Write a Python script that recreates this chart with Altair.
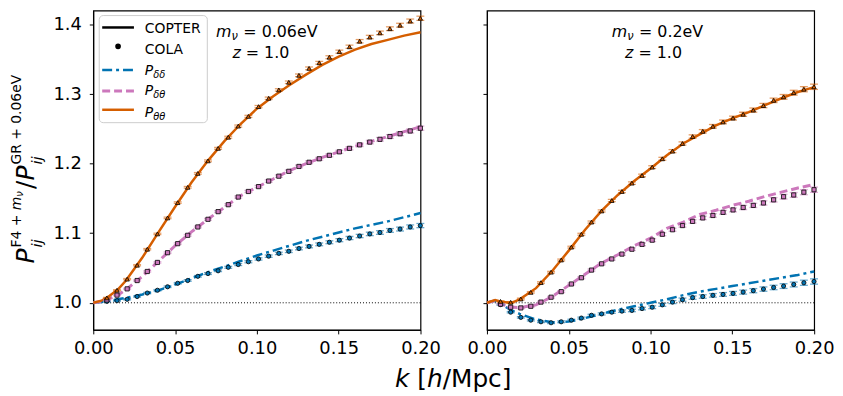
import altair as alt
import pandas as pd

FONT = "DejaVu Sans"
BLUE, PINK, ORANGE = "#0173b2", "#cc78bc", "#d55e00"

# ---------------- data ----------------
k_cola = [0.0083, 0.0145, 0.0207, 0.0268, 0.0330, 0.0392, 0.0454, 0.0516,
          0.0577, 0.0639, 0.0701, 0.0763, 0.0825, 0.0886, 0.0948, 0.1010,
          0.1072, 0.1134, 0.1195, 0.1257, 0.1319, 0.1381, 0.1443, 0.1504,
          0.1566, 0.1628, 0.1690, 0.1752, 0.1813, 0.1875, 0.1937, 0.1999]
k_line = [0.0, 0.005, 0.01, 0.015, 0.02, 0.03, 0.04, 0.05, 0.06, 0.07, 0.08,
          0.09, 0.10, 0.11, 0.12, 0.13, 0.14, 0.15, 0.16, 0.17, 0.18, 0.19, 0.20]

# m_nu = 0.06 eV panel
copter_dd_006 = [1.000, 1.001, 1.003, 1.005, 1.007, 1.012, 1.018, 1.026, 1.035, 1.044, 1.052,
                 1.060, 1.068, 1.075, 1.082, 1.089, 1.095, 1.101, 1.107, 1.112, 1.117, 1.123, 1.129]
copter_dt_006 = [1.000, 1.002, 1.006, 1.011, 1.019, 1.038, 1.060, 1.082, 1.102, 1.120, 1.137,
                 1.154, 1.166, 1.178, 1.190, 1.200, 1.209, 1.217, 1.225, 1.232, 1.239, 1.246, 1.253]
copter_tt_006 = [1.000, 1.003, 1.010, 1.019, 1.032, 1.065, 1.102, 1.138, 1.173, 1.204, 1.232,
                 1.257, 1.279, 1.297, 1.313, 1.328, 1.342, 1.354, 1.364, 1.372, 1.378, 1.384, 1.389]
cola_dd_006 = [1.002, 1.003, 1.005, 1.009, 1.014, 1.018, 1.023, 1.028, 1.032, 1.038, 1.042,
               1.046, 1.051, 1.055, 1.059, 1.063, 1.067, 1.071, 1.074, 1.078, 1.081, 1.084,
               1.087, 1.090, 1.093, 1.096, 1.099, 1.101, 1.104, 1.106, 1.109, 1.111]
cola_dt_006 = [1.004, 1.011, 1.020, 1.032, 1.045, 1.058, 1.072, 1.085, 1.097, 1.109, 1.120,
               1.131, 1.141, 1.152, 1.160, 1.167, 1.175, 1.182, 1.189, 1.196, 1.202, 1.207,
               1.212, 1.217, 1.222, 1.227, 1.231, 1.235, 1.239, 1.243, 1.247, 1.251]
cola_tt_006 = [1.007, 1.018, 1.034, 1.054, 1.077, 1.099, 1.122, 1.144, 1.166, 1.186, 1.204,
               1.222, 1.238, 1.254, 1.268, 1.282, 1.294, 1.306, 1.317, 1.327, 1.337, 1.345,
               1.353, 1.361, 1.368, 1.376, 1.382, 1.388, 1.394, 1.399, 1.405, 1.409]
cola_err_006 = [0.0008, 0.0008, 0.0009, 0.0009, 0.0010, 0.0010, 0.0011, 0.0011, 0.0012, 0.0012,
                0.0013, 0.0013, 0.0014, 0.0015, 0.0015, 0.0016, 0.0017, 0.0017, 0.0018, 0.0019,
                0.0020, 0.0020, 0.0021, 0.0022, 0.0023, 0.0024, 0.0025, 0.0026, 0.0027, 0.0028,
                0.0029, 0.0030]

# m_nu = 0.2 eV panel
copter_dd_02 = [1.000, 1.003, 0.996, 0.989, 0.984, 0.976, 0.972, 0.973, 0.978, 0.984, 0.990,
                0.995, 1.000, 1.005, 1.011, 1.016, 1.020, 1.024, 1.028, 1.032, 1.036, 1.040, 1.045]
copter_dt_02 = [1.000, 1.003, 0.997, 0.994, 0.993, 0.997, 1.009, 1.025, 1.041, 1.057, 1.069,
                1.082, 1.093, 1.107, 1.116, 1.127, 1.133, 1.140, 1.146, 1.153, 1.159, 1.165, 1.170]
copter_tt_02 = [1.000, 1.004, 1.001, 1.000, 1.005, 1.021, 1.046, 1.075, 1.105, 1.132, 1.155,
                1.175, 1.193, 1.212, 1.229, 1.242, 1.255, 1.265, 1.274, 1.284, 1.294, 1.303, 1.310]
cola_dd_02 = [0.9974, 0.9865, 0.979, 0.975, 0.9727, 0.9713, 0.9727, 0.975, 0.978, 0.982, 0.984,
              0.9865, 0.988, 0.989, 0.9917, 0.9936, 0.997, 1.001, 1.0045, 1.0074, 1.009, 1.0107,
              1.012, 1.0135, 1.0154, 1.0174, 1.0197, 1.022, 1.024, 1.0263, 1.0288, 1.0306]
cola_dt_02 = [0.998, 0.9936, 0.9926, 0.995, 1.001, 1.008, 1.016, 1.027, 1.036, 1.047, 1.056,
              1.063, 1.070, 1.077, 1.084, 1.090, 1.0985, 1.105, 1.111, 1.117, 1.122, 1.1255,
              1.130, 1.1335, 1.137, 1.140, 1.1435, 1.148, 1.1525, 1.155, 1.159, 1.1625]
cola_tt_02 = [1.002, 1.0007, 1.0054, 1.015, 1.029, 1.044, 1.0615, 1.080, 1.0985, 1.116, 1.132,
              1.147, 1.160, 1.172, 1.183, 1.195, 1.207, 1.218, 1.229, 1.239, 1.2465, 1.2537,
              1.260, 1.2655, 1.271, 1.277, 1.2835, 1.291, 1.296, 1.302, 1.307, 1.3105]
cola_err_02 = [0.0010, 0.0010, 0.0011, 0.0011, 0.0012, 0.0012, 0.0013, 0.0013, 0.0014, 0.0015,
               0.0015, 0.0016, 0.0017, 0.0018, 0.0019, 0.0020, 0.0021, 0.0022, 0.0023, 0.0024,
               0.0025, 0.0026, 0.0027, 0.0028, 0.0029, 0.0030, 0.0031, 0.0032, 0.0034, 0.0035,
               0.0037, 0.0038]

x_ticks = [0.0, 0.05, 0.10, 0.15, 0.20]
y_ticks = [1.0, 1.1, 1.2, 1.3, 1.4]
X_DOMAIN = [0.0, 0.2]
Y_DOMAIN = [0.961, 1.42]

STYLES = {
    "dd": dict(color=BLUE, shape="circle", dash=[10, 4, 3, 4], width=2.5, size=18),
    "dt": dict(color=PINK, shape="square", dash=[8, 4], width=3, size=18),
    "tt": dict(color=ORANGE, shape="triangle-up", dash=None, width=2.5, size=20),
}

# ---------------- text helpers ----------------
W_EM = {" ": 0.318, ".": 0.318, "+": 0.838, "=": 0.838, "/": 0.337, "[": 0.390,
        "]": 0.390, "A": 0.684, "C": 0.698, "E": 0.632, "F": 0.575, "G": 0.775, "L": 0.557,
        "M": 0.863, "O": 0.787, "P": 0.603, "R": 0.695, "T": 0.611, "V": 0.684, "c": 0.550,
        "e": 0.615, "h": 0.634, "i": 0.278, "j": 0.278, "k": 0.579, "m": 0.974, "p": 0.635,
        "z": 0.525, "ν": 0.592, "δ": 0.612, "θ": 0.612}
for d in "0123456789":
    W_EM[d] = 0.636


def tw(s, size):
    return sum(W_EM.get(c, 0.6) for c in s) * size


ONE = pd.DataFrame({"a": [0]})


def txt(s, x, y, size, italic=False, angle=0):
    return alt.Chart(ONE).mark_text(
        align="left", baseline="alphabetic", font=FONT, fontSize=size,
        fontStyle="italic" if italic else "normal", angle=angle, color="black"
    ).encode(x=alt.value(x), y=alt.value(y), text=alt.value(s))


def hline(pieces, cx, by):
    # leading / trailing spaces of a piece are turned into horizontal advance
    total = sum(tw(t, s) for t, s, _, _ in pieces)
    x = cx - total / 2
    out = []
    for t, s, it, dy in pieces:
        lead = len(t) - len(t.lstrip(" "))
        core = t.strip(" ")
        x += lead * W_EM[" "] * s
        out.append(txt(core, x, by + dy, s, it))
        x += tw(t, s) - lead * W_EM[" "] * s
    return out


def annotation(mass, cx1, cx2):
    out = hline([("m", 16, True, 0), ("ν", 11.5, True, 3), (" = " + mass, 16, False, 0)],
                cx1, 27)
    out += hline([("z", 16, True, 0), (" = 1.0", 16, False, 0)], cx2, 48)
    return out


def ytitle():
    out = []
    MAIN, SUP, SUB = 25, 14, 15
    XM, XS, XB = -60, -72.5, -52
    c = 255
    out.append(txt("P", XM, c, MAIN, True, 270))
    c -= tw("P", MAIN) + 1
    out.append(txt("ij", XB, c, SUB, True, 270))
    out.append(txt("F4 +", XS, c, SUP, False, 270))
    s = c - tw("F4 + ", SUP)
    out.append(txt("m", XS, s, SUP, True, 270))
    s -= tw("m", SUP)
    out.append(txt("ν", XS + 2, s, 10, True, 270))
    s -= tw("ν", 10)
    c = s - 2
    out.append(txt("/", XM, c, MAIN, False, 270))
    c -= tw("/", MAIN)
    out.append(txt("P", XM, c, MAIN, True, 270))
    c -= tw("P", MAIN) + 1
    out.append(txt("ij", XB, c, SUB, True, 270))
    out.append(txt("GR + 0.06eV", XS, c, SUP, False, 270))
    return out


def legend():
    out = [alt.Chart(ONE).mark_rect(fill="white", fillOpacity=0.8, stroke="#cccccc",
                                   strokeWidth=1, cornerRadius=4).encode(
        x=alt.value(6), x2=alt.value(115), y=alt.value(5), y2=alt.value(113))]

    def sample(y, color, dash, width):
        mk = dict(color=color, strokeWidth=width)
        if dash:
            mk["strokeDash"] = dash
        return alt.Chart(ONE).mark_rule(**mk).encode(
            x=alt.value(9), x2=alt.value(41), y=alt.value(y))

    out.append(sample(17, "black", None, 2.5))
    out.append(alt.Chart(ONE).mark_point(filled=True, fill="black", stroke="black", size=14,
                                         opacity=1).encode(x=alt.value(25), y=alt.value(36)))
    out.append(sample(60, BLUE, STYLES["dd"]["dash"], 2.5))
    out.append(sample(81, PINK, STYLES["dt"]["dash"], 3))
    out.append(sample(100, ORANGE, None, 2.5))
    out.append(txt("COPTER", 52, 23, 14))
    out.append(txt("COLA", 52, 44, 14))
    for sub, by in [("δδ", 65), ("δθ", 85), ("θθ", 107)]:
        out.append(txt("P", 52, by, 14, True))
        out.append(txt(sub, 52 + tw("P", 14), by + 3, 10, True))
    return out


def make_panel(copter, cola, err, show_labels, extras):
    xsc = alt.Scale(domain=X_DOMAIN, nice=False, zero=False)
    ysc = alt.Scale(domain=Y_DOMAIN, nice=False, zero=False)
    xax = alt.Axis(values=x_ticks, format=".2f", title=None, grid=False, tickSize=4,
                   labelPadding=6, labelFontSize=18, labelFlush=False)
    yax = alt.Axis(values=y_ticks, format=".1f", title=None, grid=False, tickSize=4,
                   labelPadding=8, labelFontSize=18, labels=show_labels, labelFlush=False)

    def X(f):
        return alt.X(f, type="quantitative", scale=xsc, axis=xax)

    def Y(f):
        return alt.Y(f, type="quantitative", scale=ysc, axis=yax)

    layers = [alt.Chart(pd.DataFrame({"y": [1.0]})).mark_rule(
        color="black", strokeDash=[1, 2], strokeWidth=1).encode(y=Y("y"))]
    for key in ["dd", "dt", "tt"]:
        st = STYLES[key]
        mk = dict(color=st["color"], strokeWidth=st["width"])
        if st["dash"]:
            mk["strokeDash"] = st["dash"]
        df = pd.DataFrame({"k": k_line, "v": copter[key]})
        layers.append(alt.Chart(df).mark_line(**mk).encode(x=X("k"), y=Y("v")))
    for key in ["dd", "dt", "tt"]:
        st = STYLES[key]
        vals = cola[key]
        df = pd.DataFrame({"k": k_cola, "v": vals,
                           "lo": [v - e for v, e in zip(vals, err)],
                           "hi": [v + e for v, e in zip(vals, err)]})
        base = alt.Chart(df)
        layers.append(base.mark_rule(color=st["color"], opacity=0.45, strokeWidth=3).encode(
            x=X("k"), y=Y("lo"), y2="hi"))
        for f in ["lo", "hi"]:
            layers.append(base.mark_tick(orient="horizontal", size=8, thickness=1.3,
                                         color=st["color"], opacity=0.6).encode(x=X("k"), y=Y(f)))
        layers.append(base.mark_point(shape=st["shape"], filled=True, fill=st["color"],
                                      stroke="black", strokeWidth=0.8, size=st["size"],
                                      opacity=1).encode(x=X("k"), y=Y("v")))
    layers += extras
    return alt.layer(*layers).properties(width=330, height=322)


left_extras = legend() + annotation("0.06eV", 175, 169) + ytitle() + hline(
    [("k", 25, True, 0), (" [", 25, False, 0), ("h", 25, True, 0), ("/Mpc]", 25, False, 0)],
    363, 380)
right_extras = annotation("0.2eV", 172, 168)

left = make_panel({"dd": copter_dd_006, "dt": copter_dt_006, "tt": copter_tt_006},
                  {"dd": cola_dd_006, "dt": cola_dt_006, "tt": cola_tt_006},
                  cola_err_006, True, left_extras)
right = make_panel({"dd": copter_dd_02, "dt": copter_dt_02, "tt": copter_tt_02},
                   {"dd": cola_dd_02, "dt": cola_dt_02, "tt": cola_tt_02},
                   cola_err_02, False, right_extras)

chart = alt.hconcat(left, right, spacing=67, bounds="flush").properties(
    padding={"left": 1, "top": 0, "right": 0, "bottom": 0}
).configure_view(stroke="black", strokeWidth=1.2).configure_axis(
    domainColor="black", domainWidth=1, tickColor="black", tickWidth=1,
    labelColor="black", labelFont=FONT
)

chart.save("out.html", embed_options={"renderer": "svg", "actions": False})
